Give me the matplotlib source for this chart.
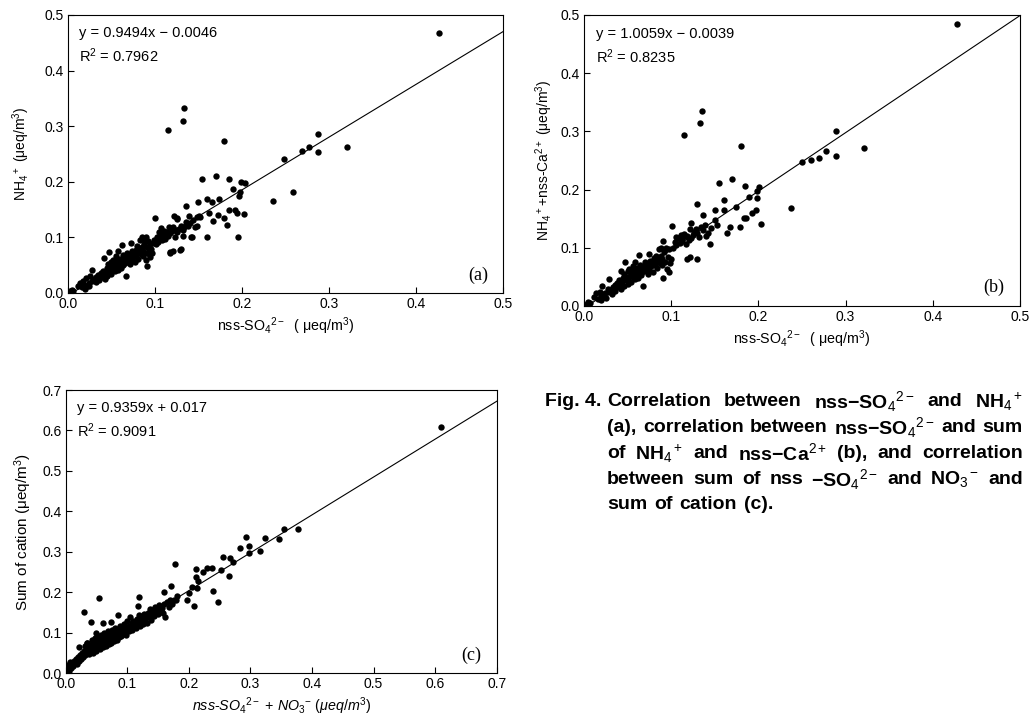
import matplotlib
matplotlib.use("Agg")
import matplotlib.pyplot as plt

# ---------------- data ----------------
# Panel (a): nss-SO4 2- vs NH4+
so4_a = [0.427, 0.134, 0.133, 0.115, 0.180, 0.288, 0.269, 0.277, 0.288, 0.321, 0.249, 0.259, 0.236,
         0.154, 0.170, 0.185, 0.190, 0.199, 0.204, 0.197, 0.198, 0.160, 0.174, 0.166, 0.136, 0.150,
         0.185, 0.192, 0.194, 0.203, 0.162, 0.151, 0.173, 0.167, 0.179, 0.183, 0.139, 0.122, 0.125,
         0.160, 0.196, 0.143, 0.130, 0.118, 0.121, 0.148,
         0.003, 0.005, 0.004, 0.006, 0.012, 0.014, 0.016, 0.018, 0.019, 0.020, 0.021, 0.022, 0.024,
         0.025, 0.026, 0.028, 0.028, 0.030, 0.032, 0.033, 0.035, 0.036, 0.038, 0.039, 0.040, 0.041,
         0.042, 0.043, 0.044, 0.045, 0.045, 0.046, 0.047, 0.048, 0.049, 0.050, 0.050, 0.051, 0.052,
         0.053, 0.054, 0.055, 0.055, 0.056, 0.057, 0.058, 0.058, 0.059, 0.060, 0.061, 0.062, 0.062,
         0.063, 0.064, 0.065, 0.066, 0.067, 0.068, 0.068, 0.069, 0.070, 0.071, 0.072, 0.073, 0.073,
         0.074, 0.075, 0.076, 0.077, 0.078, 0.079, 0.080, 0.080, 0.081, 0.082, 0.083, 0.084, 0.085,
         0.085, 0.086, 0.087, 0.088, 0.088, 0.089, 0.090, 0.090, 0.091, 0.091, 0.092, 0.093, 0.093,
         0.094, 0.095, 0.096, 0.097, 0.098, 0.099, 0.100, 0.101, 0.102, 0.104, 0.105, 0.106, 0.107,
         0.108, 0.110, 0.111, 0.112, 0.114, 0.115, 0.116, 0.117, 0.118, 0.120, 0.121, 0.123, 0.124,
         0.125, 0.126, 0.128, 0.129, 0.130, 0.132, 0.133, 0.134, 0.136, 0.138, 0.140, 0.142, 0.144,
         0.146, 0.148, 0.152]
nh4_a = [0.467, 0.332, 0.310, 0.293, 0.274, 0.286, 0.256, 0.262, 0.253, 0.263, 0.241, 0.181, 0.165,
         0.205, 0.211, 0.205, 0.187, 0.199, 0.197, 0.174, 0.181, 0.169, 0.169, 0.163, 0.156, 0.164,
         0.150, 0.149, 0.144, 0.142, 0.144, 0.139, 0.141, 0.130, 0.134, 0.122, 0.138, 0.138, 0.134,
         0.100, 0.100, 0.101, 0.079, 0.074, 0.075, 0.120,
         0.004, 0.006, 0.002, 0.003, 0.013, 0.018, 0.010, 0.022, 0.015, 0.008, 0.027, 0.012, 0.018,
         0.013, 0.030, 0.021, 0.042, 0.025, 0.019, 0.028, 0.032, 0.024, 0.036, 0.029, 0.040, 0.033,
         0.063, 0.026, 0.038, 0.045, 0.030, 0.052, 0.074, 0.041, 0.048, 0.056, 0.035, 0.044, 0.060,
         0.050, 0.039, 0.054, 0.066, 0.047, 0.058, 0.042, 0.075, 0.052, 0.062, 0.045, 0.087, 0.056,
         0.068, 0.050, 0.060, 0.054, 0.030, 0.065, 0.072, 0.058, 0.062, 0.052, 0.068, 0.090, 0.058,
         0.075, 0.064, 0.070, 0.055, 0.078, 0.066, 0.072, 0.084, 0.062, 0.078, 0.095, 0.070, 0.100,
         0.082, 0.066, 0.076, 0.098, 0.088, 0.072, 0.100, 0.060, 0.082, 0.048, 0.094, 0.070, 0.077,
         0.088, 0.065, 0.080, 0.072, 0.090, 0.095, 0.135, 0.088, 0.100, 0.092, 0.110, 0.101, 0.117,
         0.095, 0.105, 0.112, 0.098, 0.110, 0.103, 0.118, 0.072, 0.108, 0.112, 0.119, 0.100, 0.114,
         0.133, 0.110, 0.115, 0.077, 0.120, 0.113, 0.102, 0.118, 0.128, 0.120, 0.126, 0.101, 0.131,
         0.118, 0.136, 0.137]

# Panel (b): nss-SO4 2- vs NH4+ + nss-Ca2+
so4_b = [0.428, 0.135, 0.133, 0.115, 0.180, 0.289, 0.289, 0.321, 0.277, 0.269, 0.260, 0.250, 0.237,
         0.170, 0.155, 0.185, 0.201, 0.198, 0.189, 0.198, 0.130, 0.160, 0.174, 0.150, 0.161, 0.197,
         0.193, 0.183, 0.186, 0.203, 0.179, 0.168, 0.164, 0.153, 0.137, 0.123, 0.101, 0.130, 0.118,
         0.122, 0.091, 0.145, 0.140,
         0.003, 0.005, 0.004, 0.007, 0.012, 0.014, 0.016, 0.018, 0.019, 0.020, 0.021, 0.022, 0.024,
         0.025, 0.027, 0.028, 0.029, 0.030, 0.032, 0.033, 0.035, 0.036, 0.038, 0.039, 0.040, 0.041,
         0.042, 0.043, 0.044, 0.045, 0.046, 0.046, 0.047, 0.048, 0.049, 0.050, 0.050, 0.051, 0.052,
         0.053, 0.054, 0.055, 0.056, 0.056, 0.057, 0.058, 0.059, 0.060, 0.061, 0.062, 0.063, 0.063,
         0.064, 0.065, 0.066, 0.067, 0.068, 0.069, 0.070, 0.071, 0.072, 0.073, 0.074, 0.074, 0.075,
         0.076, 0.077, 0.078, 0.079, 0.080, 0.081, 0.082, 0.083, 0.084, 0.085, 0.086, 0.087, 0.088,
         0.088, 0.089, 0.090, 0.091, 0.092, 0.093, 0.094, 0.095, 0.096, 0.097, 0.098, 0.099, 0.100,
         0.102, 0.104, 0.105, 0.106, 0.108, 0.110, 0.111, 0.112, 0.114, 0.115, 0.117, 0.118, 0.120,
         0.121, 0.123, 0.125, 0.126, 0.128, 0.130, 0.132, 0.134, 0.136, 0.139, 0.142, 0.146, 0.150]
ca_nh4_b = [0.484, 0.335, 0.314, 0.294, 0.275, 0.301, 0.258, 0.271, 0.267, 0.254, 0.250, 0.247, 0.168,
            0.219, 0.211, 0.206, 0.205, 0.198, 0.187, 0.185, 0.176, 0.182, 0.170, 0.165, 0.165, 0.165,
            0.159, 0.151, 0.151, 0.141, 0.135, 0.135, 0.126, 0.139, 0.156, 0.143, 0.138, 0.080, 0.080,
            0.085, 0.048, 0.106, 0.120,
            0.004, 0.007, 0.002, 0.005, 0.015, 0.022, 0.012, 0.024, 0.018, 0.010, 0.034, 0.016, 0.022,
            0.014, 0.030, 0.024, 0.046, 0.028, 0.020, 0.032, 0.036, 0.026, 0.040, 0.032, 0.044, 0.036,
            0.060, 0.030, 0.042, 0.048, 0.034, 0.055, 0.075, 0.044, 0.050, 0.060, 0.038, 0.048, 0.064,
            0.052, 0.042, 0.058, 0.068, 0.050, 0.062, 0.046, 0.075, 0.055, 0.066, 0.048, 0.088, 0.058,
            0.070, 0.053, 0.064, 0.058, 0.035, 0.068, 0.076, 0.060, 0.066, 0.055, 0.072, 0.090, 0.062,
            0.078, 0.068, 0.074, 0.058, 0.082, 0.070, 0.076, 0.086, 0.066, 0.080, 0.098, 0.074, 0.100,
            0.086, 0.070, 0.080, 0.112, 0.092, 0.076, 0.100, 0.064, 0.085, 0.058, 0.098, 0.074, 0.080,
            0.100, 0.110, 0.118, 0.104, 0.116, 0.108, 0.122, 0.112, 0.118, 0.124, 0.106, 0.120, 0.114,
            0.132, 0.116, 0.122, 0.128, 0.132, 0.126, 0.118, 0.136, 0.130, 0.140, 0.126, 0.134, 0.148]

# Panel (c): nss-SO4 2- + NO3- vs sum of cation
anion_c = [0.609, 0.378, 0.355, 0.347, 0.324, 0.293, 0.316, 0.297, 0.298, 0.283, 0.256, 0.267, 0.271,
           0.265, 0.252, 0.237, 0.230, 0.223, 0.211, 0.212, 0.215, 0.205, 0.213, 0.240, 0.247, 0.209,
           0.178, 0.171, 0.160, 0.179, 0.197, 0.200, 0.030, 0.054, 0.119, 0.117, 0.041, 0.060, 0.073,
           0.021, 0.034,
           0.002, 0.003, 0.004, 0.005, 0.006, 0.007, 0.008, 0.010, 0.012, 0.014, 0.015, 0.017, 0.018,
           0.020, 0.022, 0.024, 0.025, 0.027, 0.028, 0.030, 0.031, 0.032, 0.034, 0.034, 0.035, 0.037,
           0.038, 0.040, 0.041, 0.042, 0.043, 0.044, 0.045, 0.046, 0.047, 0.048, 0.049, 0.050, 0.050,
           0.051, 0.052, 0.053, 0.054, 0.055, 0.056, 0.057, 0.058, 0.059, 0.060, 0.061, 0.062, 0.063,
           0.064, 0.065, 0.066, 0.067, 0.068, 0.069, 0.070, 0.071, 0.072, 0.073, 0.074, 0.075, 0.076,
           0.077, 0.078, 0.079, 0.080, 0.081, 0.082, 0.083, 0.084, 0.085, 0.085, 0.086, 0.087, 0.088,
           0.089, 0.090, 0.091, 0.092, 0.093, 0.094, 0.095, 0.096, 0.097, 0.098, 0.099, 0.100, 0.102,
           0.103, 0.104, 0.105, 0.107, 0.108, 0.110, 0.111, 0.113, 0.114, 0.116, 0.118, 0.119, 0.120,
           0.122, 0.124, 0.125, 0.127, 0.128, 0.130, 0.132, 0.134, 0.135, 0.137, 0.138, 0.140, 0.142,
           0.143, 0.145, 0.147, 0.148, 0.150, 0.152, 0.154, 0.156, 0.158, 0.160, 0.162, 0.165, 0.168,
           0.170, 0.173, 0.176, 0.180]
cation_c = [0.608, 0.357, 0.356, 0.332, 0.335, 0.338, 0.301, 0.315, 0.297, 0.310, 0.287, 0.285, 0.275,
            0.240, 0.255, 0.259, 0.259, 0.250, 0.257, 0.239, 0.227, 0.214, 0.210, 0.204, 0.175, 0.166,
            0.269, 0.216, 0.200, 0.180, 0.181, 0.198, 0.151, 0.185, 0.188, 0.167, 0.126, 0.125, 0.127,
            0.066, 0.074,
            0.003, 0.010, 0.020, 0.006, 0.015, 0.028, 0.012, 0.022, 0.018, 0.030, 0.025, 0.035, 0.022,
            0.040, 0.030, 0.045, 0.036, 0.050, 0.040, 0.055, 0.068, 0.046, 0.060, 0.074, 0.052, 0.065,
            0.048, 0.070, 0.058, 0.082, 0.064, 0.050, 0.075, 0.068, 0.060, 0.088, 0.072, 0.100, 0.056,
            0.080, 0.066, 0.090, 0.074, 0.060, 0.085, 0.070, 0.094, 0.078, 0.064, 0.088, 0.074, 0.100,
            0.082, 0.068, 0.092, 0.078, 0.086, 0.104, 0.072, 0.096, 0.084, 0.090, 0.076, 0.108, 0.092,
            0.084, 0.098, 0.080, 0.112, 0.094, 0.088, 0.102, 0.082, 0.144, 0.096, 0.108, 0.090, 0.118,
            0.100, 0.092, 0.110, 0.104, 0.096, 0.122, 0.108, 0.100, 0.114, 0.094, 0.128, 0.110, 0.104,
            0.118, 0.140, 0.112, 0.124, 0.106, 0.130, 0.118, 0.126, 0.112, 0.134, 0.122, 0.143, 0.116,
            0.130, 0.138, 0.122, 0.146, 0.130, 0.138, 0.125, 0.150, 0.140, 0.160, 0.132, 0.148, 0.156,
            0.142, 0.164, 0.150, 0.158, 0.146, 0.168, 0.156, 0.162, 0.150, 0.172, 0.140, 0.176, 0.165,
            0.180, 0.172, 0.182, 0.190]

# regression equations printed on the panels
slopes = [0.9494, 1.0059, 0.9359]
intercepts = [-0.0046, -0.0039, 0.017]
eq_texts = ["y = 0.9494x \u2212 0.0046", "y = 1.0059x \u2212 0.0039", "y = 0.9359x + 0.017"]
r2_texts = ["R$^2$ = 0.7962", "R$^2$ = 0.8235", "R$^2$ = 0.9091"]
panel_tags = ["(a)", "(b)", "(c)"]
axis_max = [0.5, 0.5, 0.7]
tick_labels_05 = ["0.0", "0.1", "0.2", "0.3", "0.4", "0.5"]
tick_labels_07 = ["0.0", "0.1", "0.2", "0.3", "0.4", "0.5", "0.6", "0.7"]

xlabels = ["nss-SO$_4$$^{2-}$  ( \u03bceq/m$^3$)",
           "nss-SO$_4$$^{2-}$  ( \u03bceq/m$^3$)",
           "$\\it{nss}$-$\\it{SO}$$_4$$^{2-}$ + $\\it{NO}$$_3$$^{-}$ ($\\it{\u03bceq/m}$$^3$)"]
ylabels = ["NH$_4$$^+$ (\u03bceq/m$^3$)",
           "NH$_4$$^+$+nss-Ca$^{2+}$ (\u03bceq/m$^3$)",
           "Sum of cation (\u03bceq/m$^3$)"]

caption_head = "Fig. 4."
caption_lines = [
    "Correlation between nss\u2212SO$_4$$^{2-}$ and NH$_4$$^+$",
    "(a), correlation between nss\u2212SO$_4$$^{2-}$ and sum",
    "of NH$_4$$^+$ and nss\u2212Ca$^{2+}$ (b), and correlation",
    "between sum of nss \u2212SO$_4$$^{2-}$ and NO$_3$$^-$ and",
    "sum of cation (c).",
]

# ---------------- drawing ----------------
plt.rcParams['font.family'] = ['Liberation Sans', 'DejaVu Sans']
plt.rcParams['mathtext.fontset'] = 'custom'
plt.rcParams['mathtext.rm'] = 'Liberation Sans'
plt.rcParams['mathtext.it'] = 'Liberation Sans:italic'
plt.rcParams['mathtext.bf'] = 'Liberation Sans:bold'

W, H = 1031, 722
fig = plt.figure(figsize=(W / 100, H / 100), dpi=100)

def rect(l, t, r, b):
    return [l / W, 1 - b / H, (r - l) / W, (b - t) / H]

axes = [fig.add_axes(rect(67.7, 15, 503, 293)),
        fig.add_axes(rect(584, 15, 1020, 306)),
        fig.add_axes(rect(65.7, 390, 496.7, 673.3))]

datasets = [(so4_a, nh4_a), (so4_b, ca_nh4_b), (anion_c, cation_c)]
ylabel_sizes = [10, 10, 11]
ylabel_pads = [9, 4, 6]

for i, ax in enumerate(axes):
    xs, ys = datasets[i]
    m = axis_max[i]
    ax.scatter(xs, ys, s=21, color='black', linewidths=0, zorder=3)
    ax.plot([0, m], [intercepts[i], slopes[i] * m + intercepts[i]], color='black', lw=0.8, zorder=2)
    ax.set_xlim(0, m)
    ax.set_ylim(0, m)
    labels = tick_labels_05 if m == 0.5 else tick_labels_07
    ticks = [k * 0.1 for k in range(len(labels))]
    ax.set_xticks(ticks)
    ax.set_yticks(ticks)
    ax.set_xticklabels(labels)
    ax.set_yticklabels(labels)
    ax.tick_params(direction='in', length=4, width=0.8, labelsize=10, pad=3)
    for sp in ax.spines.values():
        sp.set_linewidth(0.8)
    ax.set_xlabel(xlabels[i], fontsize=10.3, labelpad=3)
    ax.set_ylabel(ylabels[i], fontsize=ylabel_sizes[i], labelpad=ylabel_pads[i])
    ax.text(0.027, 0.935, eq_texts[i], transform=ax.transAxes, fontsize=10.5, va='center', ha='left')
    ax.text(0.027, 0.855, r2_texts[i], transform=ax.transAxes, fontsize=10.5, va='center', ha='left')
    ax.text(0.965, 0.065, panel_tags[i], transform=ax.transAxes, fontsize=13, ha='right', va='center',
            family='Liberation Serif')

# caption (justified word by word like the printed figure)
cap_x0, cap_x1, cap_right = 545, 607, 1023
cap_y0, cap_dy = 402, 25.7
cap_size = 14
fig.text(cap_x0 / W, 1 - cap_y0 / H, caption_head, fontsize=cap_size, fontweight='bold',
         ha='left', va='center')
fig.canvas.draw()
renderer = fig.canvas.get_renderer()
for j, line in enumerate(caption_lines):
    y = 1 - (cap_y0 + j * cap_dy) / H
    words = line.split(" ")
    arts = [fig.text(0, y, w, fontsize=cap_size, fontweight='bold', ha='left', va='center') for w in words]
    widths = [a.get_window_extent(renderer).width for a in arts]
    if j < len(caption_lines) - 1:
        gap = (cap_right - cap_x1 - sum(widths)) / (len(words) - 1)
    else:
        gap = 7
    x = cap_x1
    for a, w in zip(arts, widths):
        a.set_x(x / W)
        x += w + gap

fig.savefig("out.png", dpi=100)
